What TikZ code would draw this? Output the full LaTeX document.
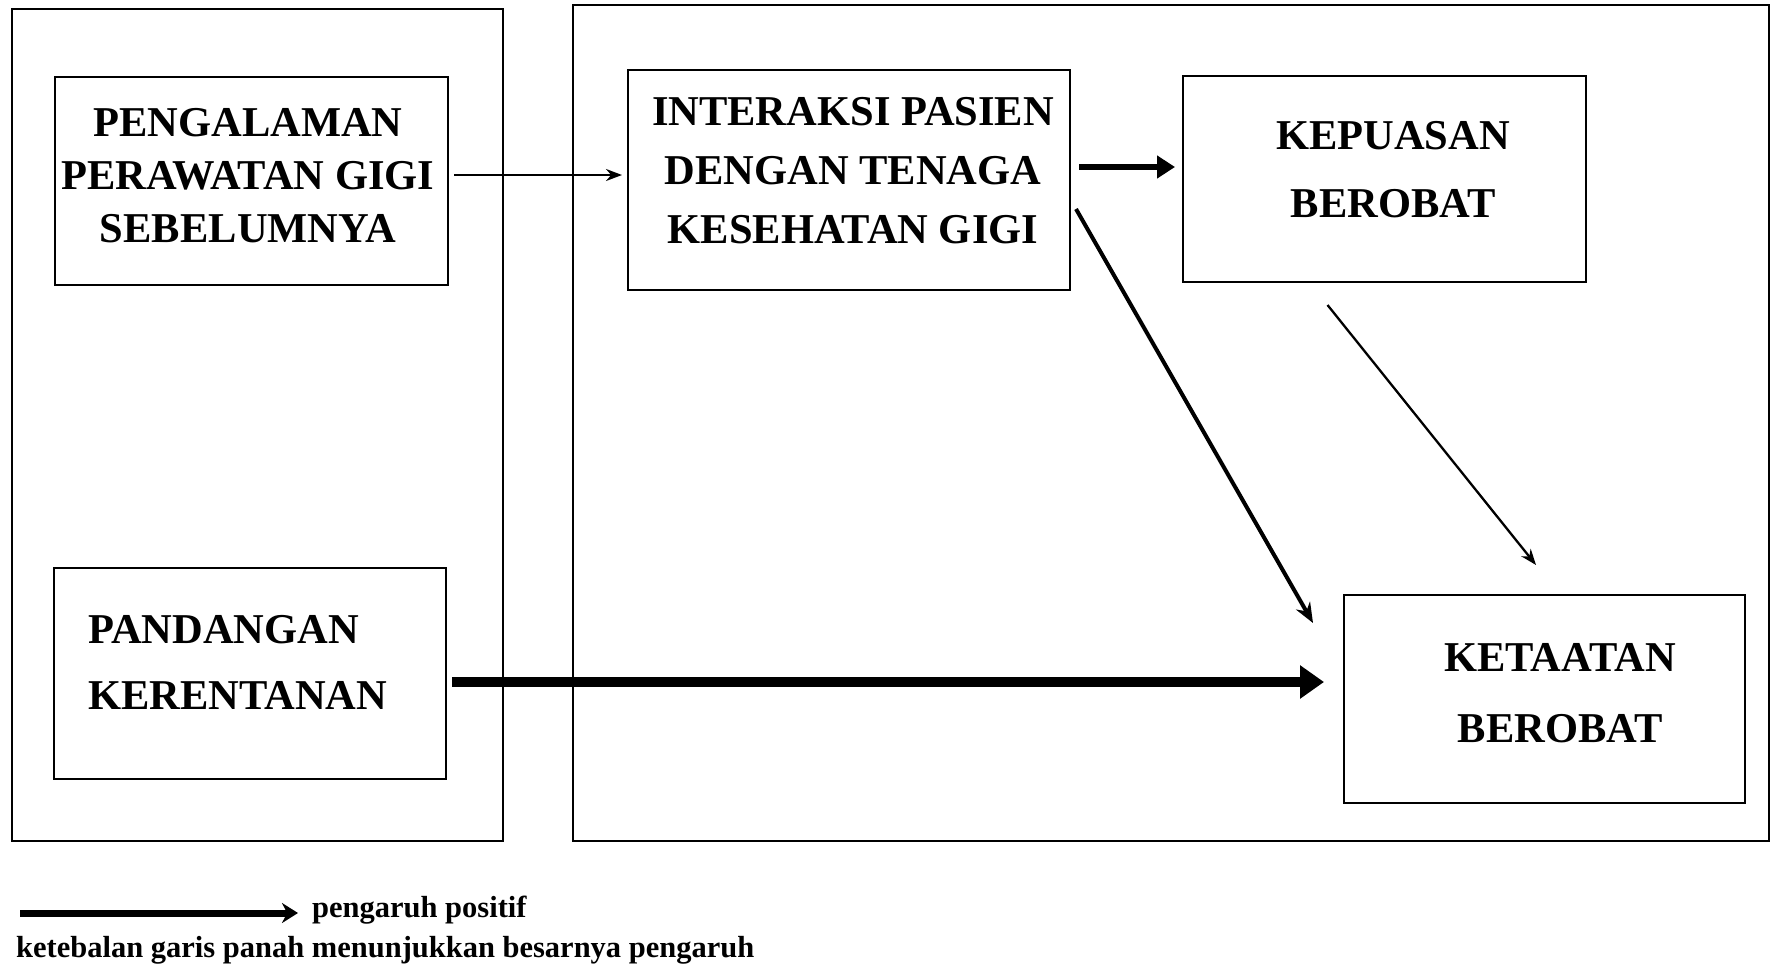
\documentclass[tikz,border=0pt]{standalone}
\usepackage{fontspec}
\setmainfont{Liberation Serif}
\usetikzlibrary{arrows.meta,calc}
\begin{document}
\begin{tikzpicture}[x=1pt,y=-1pt,
  frame/.style={draw,line width=2pt,inner sep=0pt,outer sep=0pt},
  varbox/.style={draw,line width=2pt,inner sep=0pt,outer sep=0pt},
  boxtext/.style={inner sep=0pt,font=\bfseries\fontsize{42.5}{53}\selectfont},
  legtext/.style={inner sep=0pt,font=\bfseries\fontsize{30.5}{36}\selectfont},
  w1/.style={line width=2.3pt,-{Stealth[length=16pt,width=12pt]}},
  w2/.style={line width=4pt,-{Stealth[length=20pt,width=16pt]}},
  w3/.style={line width=6pt,-{Triangle[length=18pt,width=22pt]}},
  w4/.style={line width=10pt,-{Triangle[length=24pt,width=32pt]}},
  wleg/.style={line width=7pt,-{Stealth[length=16pt,width=20pt]}}]
\useasboundingbox (0,0) rectangle (1771,966);

% outer frames
\node[frame,minimum width=491pt,minimum height=832pt] (left) at (257.5,425) {};
\node[frame,minimum width=1196pt,minimum height=836pt] (right) at (1171,423) {};

% variable boxes
\node[varbox,minimum width=393pt,minimum height=208pt] (peng) at (251.5,181) {};
\node[varbox,minimum width=442pt,minimum height=220pt] (inter) at (849,180) {};
\node[varbox,minimum width=403pt,minimum height=206pt] (kepu) at (1384.5,179) {};
\node[varbox,minimum width=392pt,minimum height=211pt] (pand) at (250,673.5) {};
\node[varbox,minimum width=401pt,minimum height=208pt] (keta) at (1544.5,699) {};

% box labels
\node[boxtext,align=center] (pengT) at (248,176) {PENGALAMAN\\PERAWATAN GIGI\\SEBELUMNYA};
\node[boxtext,align=center,font=\bfseries\fontsize{42.5}{59}\selectfont] (interT) at (853,171) {INTERAKSI PASIEN\\DENGAN TENAGA\\KESEHATAN GIGI};
\node[boxtext,align=center,font=\bfseries\fontsize{42.5}{68}\selectfont] (kepuT) at (1393,170) {KEPUASAN\\BEROBAT};
\node[boxtext,align=left,anchor=west,font=\bfseries\fontsize{42.5}{66}\selectfont] (pandT) at (88,662) {PANDANGAN\\KERENTANAN};
\node[boxtext,align=center,font=\bfseries\fontsize{42.5}{71}\selectfont] (ketaT) at (1560,693) {KETAATAN\\BEROBAT};

% paths of influence
\draw[w1] ($(peng.east)+(6,-6)$) -- ($(inter.west)+(-6,-5)$);
\draw[w3] ($(inter.east)+(9,-13)$) -- ($(kepu.west)+(-8,-12)$);
\draw[w2] ($(inter.east)+(6,29)$) -- ($(keta.north west)+(-31,28)$);
\draw[w1] ($(kepu.south)+(-57,23)$) -- ($(keta.north)+(-8.5,-30)$);
\draw[w4] ($(pand.east)+(6,8.5)$) -- ($(keta.west)+(-20,-17)$);

% legend
\coordinate (legA) at (20,913);
\coordinate (legB) at (298,913);
\draw[wleg] (legA) -- (legB);
\node[legtext,anchor=base west] (legpos) at (312,917) {pengaruh positif};
\node[legtext,anchor=base west] (legnote) at (16,957) {ketebalan garis panah menunjukkan besarnya pengaruh};
\end{tikzpicture}
\end{document}
